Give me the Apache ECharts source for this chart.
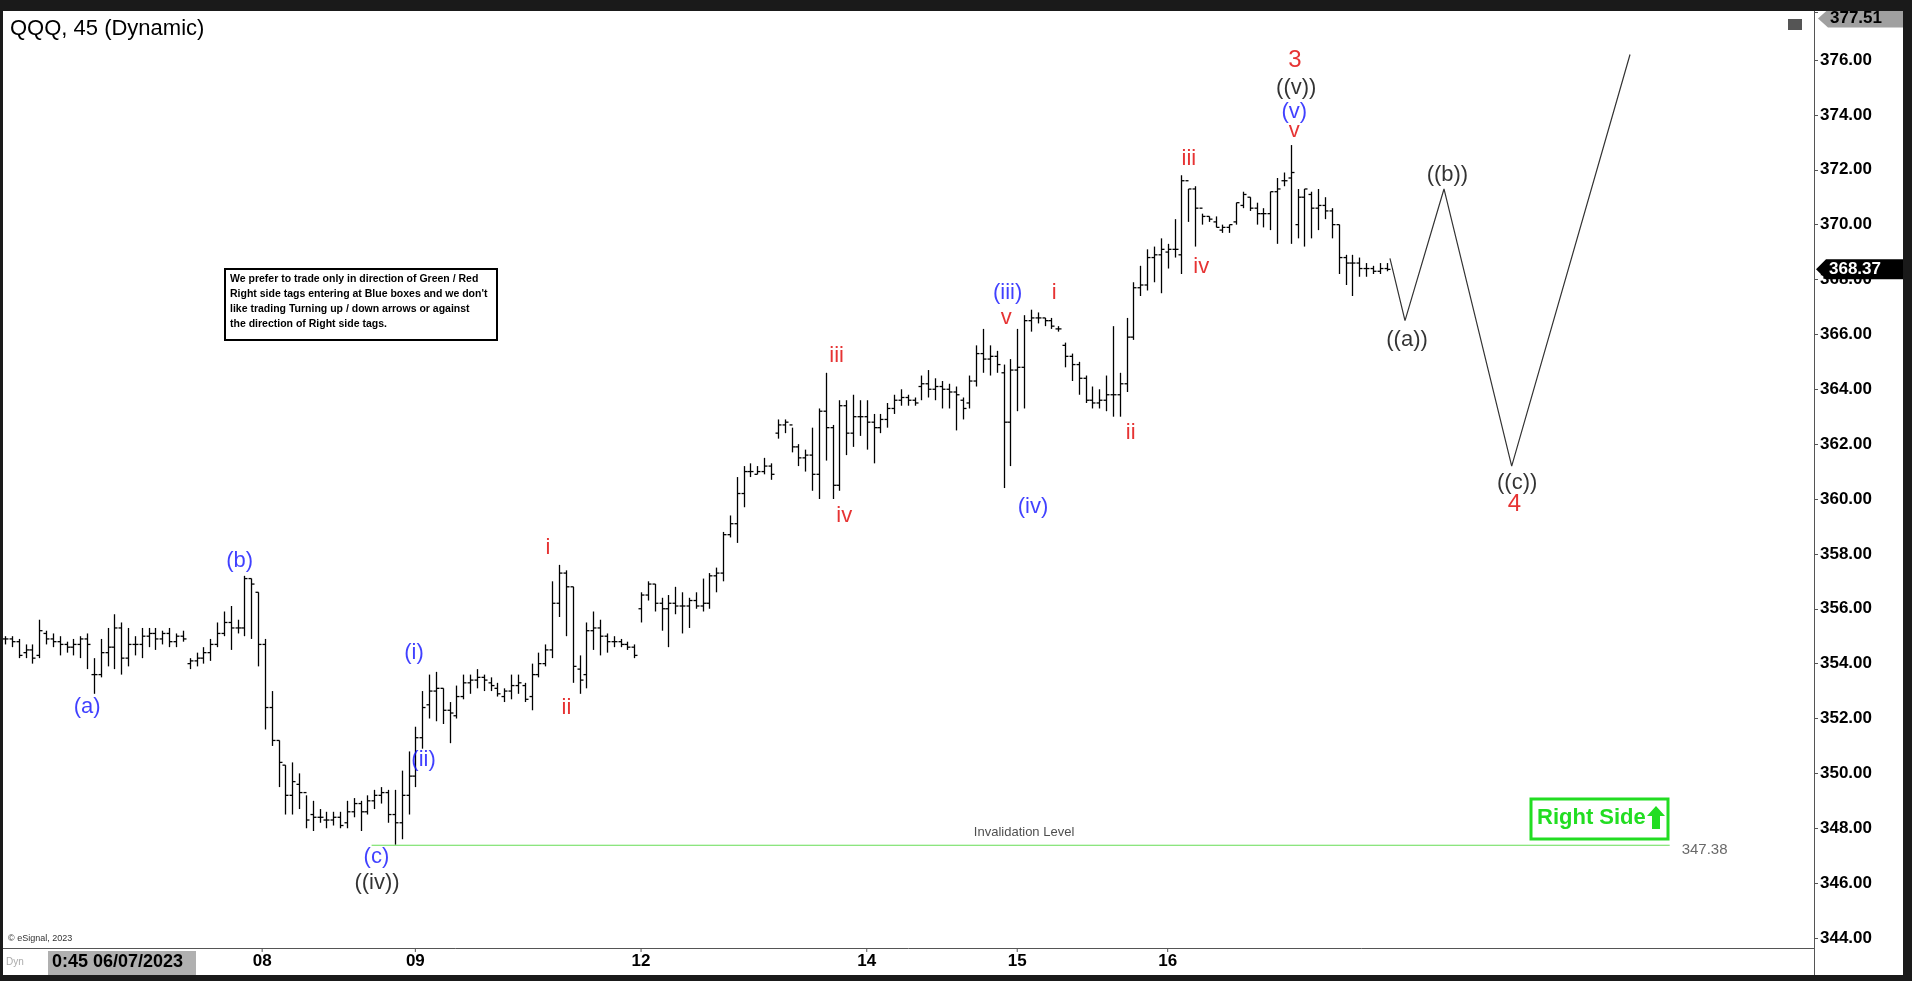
<!DOCTYPE html>
<html><head><meta charset="utf-8">
<script src="https://cdn.jsdelivr.net/npm/echarts@6/dist/echarts.min.js"></script>
<style>html,body{margin:0;padding:0;background:#fff}#c{width:1912px;height:981px}</style>
</head><body><div id="c"></div>
<script>
// OHLC bars: [open, close, low, high]
const bars = [
[354.9,354.9,354.7,355.0],[354.9,354.8,354.6,355.0],[354.8,354.3,354.2,354.9],[354.4,354.5,354.2,354.7],
[354.5,354.2,354.0,354.7],[354.3,355.2,354.2,355.6],[355.1,354.9,354.7,355.2],[354.9,354.8,354.6,355.1],
[354.8,354.7,354.3,355.0],[354.7,354.6,354.4,354.8],[354.6,354.7,354.3,354.9],[354.7,354.9,354.2,355.0],
[354.9,354.7,353.8,355.1],[353.6,353.6,352.9,354.2],[353.6,354.4,353.5,354.9],[354.4,354.6,353.9,355.3],
[354.6,355.3,353.8,355.8],[355.3,354.2,353.6,355.5],[354.2,354.7,353.9,355.3],[354.7,354.7,354.3,355.0],
[354.7,355.0,354.2,355.3],[355.0,355.1,354.6,355.3],[355.1,354.9,354.5,355.3],[354.9,355.1,354.7,355.2],
[355.1,354.8,354.6,355.3],[354.8,355.0,354.6,355.1],[355.0,354.9,354.8,355.2],
[354.0,354.1,353.8,354.2],[354.1,354.2,353.9,354.4],[354.2,354.4,354.0,354.6],[354.4,354.7,354.1,354.9],
[354.7,355.1,354.6,355.5],[355.1,355.5,355.0,355.9],[355.5,355.3,354.5,356.1],[355.3,355.3,355.1,355.6],
[355.3,357.1,355.0,357.2],[357.1,356.9,354.9,357.1],[356.6,354.7,353.9,356.6],[354.7,352.4,351.6,354.9],
[352.4,351.2,351.0,353.0],[351.2,350.4,349.5,351.2],[350.3,349.2,348.5,350.3],[349.2,349.7,348.5,350.4],
[349.6,349.3,348.7,350.0],[349.3,348.3,348.0,349.2],[348.5,348.4,347.9,349.0],[348.4,348.4,348.2,348.7],
[348.3,348.3,348.0,348.6],[348.3,348.4,348.1,348.6],[348.4,348.1,348.0,348.6],[348.2,348.6,348.0,349.0],
[348.6,348.9,348.4,349.1],[348.9,348.6,347.9,349.0],[348.6,349.0,348.5,349.2],[349.0,349.2,348.7,349.4],
[349.2,349.3,348.9,349.5],[349.3,348.5,348.2,349.4],[348.5,348.2,347.4,349.4],[348.2,349.2,347.6,350.1],
[349.2,349.9,348.5,350.8],[349.9,351.3,349.5,351.7],[351.3,352.4,350.9,353.0],[352.5,353.0,352.0,353.6],
[353.0,353.1,351.9,353.7],[353.1,352.3,351.8,353.1],[352.3,352.2,351.1,352.6],[352.1,352.8,352.0,353.2],
[352.8,353.3,352.7,353.6],[353.3,353.4,352.9,353.6],[353.4,353.5,353.1,353.8],[353.5,353.4,353.0,353.6],
[353.3,353.2,353.0,353.5],[353.1,352.9,352.8,353.3],[352.8,353.0,352.6,353.1],[353.0,353.2,352.7,353.6],
[353.2,353.3,352.9,353.6],[353.2,352.7,352.6,353.3],[352.8,353.6,352.3,354.0],[353.6,354.0,353.5,354.4],
[354.0,354.5,353.9,354.7],[354.5,356.2,354.2,357.0],[356.2,357.3,355.7,357.6],[357.3,356.8,355.0,357.4],
[356.8,353.9,353.3,356.8],[353.8,353.4,352.9,354.3],[353.6,355.2,353.1,355.5],[355.2,355.3,354.5,355.9],
[355.3,355.0,354.3,355.6],[355.0,354.8,354.4,355.1],[354.8,354.8,354.6,355.0],[354.8,354.7,354.6,354.9],
[354.7,354.6,354.5,354.8],[354.6,354.3,354.2,354.7],
[356.0,356.5,355.5,356.6],[356.5,356.9,356.3,357.0],[356.9,356.2,355.9,356.9],[356.2,356.0,355.2,356.4],
[356.0,356.2,354.6,356.5],[356.2,356.1,355.8,356.8],[356.1,356.1,355.1,356.6],[356.1,356.3,355.3,356.4],
[356.3,356.1,356.0,356.6],[356.1,356.2,355.9,357.1],[356.2,357.2,356.0,357.3],[357.2,357.3,356.6,357.5],
[357.3,358.7,357.0,358.8],[358.7,359.1,358.6,359.4],[359.1,360.2,358.4,360.8],[360.2,361.0,359.7,361.2],
[361.0,361.0,360.8,361.3],[360.9,361.0,360.9,361.2],[361.0,361.2,360.9,361.5],[361.2,360.9,360.7,361.3],
[362.4,362.7,362.2,362.9],[362.7,362.8,362.4,362.9],[362.7,361.9,361.7,362.6],[361.9,361.5,361.2,362.0],
[361.5,361.6,361.0,361.8],[361.6,360.9,360.3,362.6],[360.9,363.2,360.0,363.3],[363.2,362.6,361.4,364.6],
[362.6,360.5,360.0,362.7],[360.5,363.4,360.3,363.6],[363.4,362.4,361.6,363.6],[362.4,363.0,361.9,363.8],
[363.0,363.0,362.3,363.6],[363.0,362.8,361.8,363.6],[362.8,362.6,361.3,363.1],[362.6,362.9,362.4,363.1],
[362.9,363.3,362.6,363.5],[363.3,363.6,363.1,363.8],[363.6,363.7,363.4,364.0],[363.7,363.6,363.4,363.8],
[363.6,363.5,363.4,363.7],[364.1,364.2,363.6,364.5],[364.2,364.0,363.7,364.7],[364.0,364.1,363.6,364.4],
[364.1,364.0,363.3,364.3],[364.0,363.9,363.3,364.2],[363.9,363.8,362.5,364.1],[363.6,363.3,362.9,363.7],
[363.5,364.3,363.3,364.5],[364.3,365.3,364.1,365.6],[365.3,365.1,364.6,366.2],[365.1,365.2,364.5,365.6],
[365.2,364.9,364.6,365.4],[364.6,362.8,360.4,364.9],[362.8,364.7,361.2,365.1],[364.7,364.8,363.2,366.2],
[364.8,366.5,363.3,366.7],[366.5,366.6,366.1,366.9],[366.6,366.6,366.4,366.8],[366.6,366.5,366.3,366.6],
[366.5,366.3,366.2,366.6],[366.2,366.2,366.1,366.3],
[365.6,365.2,364.8,365.7],[365.2,364.9,364.3,365.3],[364.9,364.4,363.8,365.0],[364.4,363.6,363.5,364.5],
[363.6,363.5,363.3,364.1],[363.5,363.6,363.3,364.0],[363.6,363.8,363.2,364.5],[363.8,363.8,363.0,366.3],
[363.8,364.2,363.0,364.6],[364.2,365.9,363.9,366.6],[365.9,367.7,365.8,367.9],[367.7,367.8,367.4,368.5],
[367.8,368.8,367.6,369.1],[368.8,368.9,367.9,369.2],[368.9,369.1,367.5,369.5],[369.0,369.1,368.4,369.3],
[369.1,369.1,368.8,370.2],[368.9,371.6,368.2,371.8],[371.6,371.3,370.1,371.3],[371.3,370.6,369.2,371.4],
[370.6,370.3,370.0,370.4],[370.3,370.2,370.1,370.3],[370.1,369.9,369.9,370.3],[369.8,369.9,369.7,370.0],
[369.9,370.0,369.7,370.0],[370.1,370.8,370.0,370.8],[370.7,371.1,370.6,371.2],[371.0,370.6,370.5,371.0],
[370.6,370.4,370.0,370.8],[370.4,370.4,369.9,370.6],[370.4,371.2,369.8,371.2],[371.2,371.3,369.3,371.7],
[371.6,371.6,371.4,371.9],[371.7,371.9,369.3,372.9],[370.0,371.0,369.5,371.3],[371.0,371.3,369.2,371.3],
[371.1,370.6,369.5,371.2],[370.6,370.7,369.8,371.3],[370.7,370.5,370.2,371.0],[370.5,370.0,369.5,370.6],
[370.0,368.8,368.2,370.0],[368.8,368.6,367.8,368.9],[368.6,368.6,367.4,368.9],[368.6,368.4,368.1,368.8],
[368.4,368.4,368.1,368.6],[368.4,368.3,368.2,368.5],[368.3,368.4,368.2,368.6],[368.4,368.37,368.3,368.6]
];
const projection = [[202.5,368.77],[204.7,366.5],[210.4,371.3],[220.3,361.2],[237.6,376.2]];
const dayLabels = ['08','09','12','14','15','16'];
const dayIdx = [37.6,60,93,126,148,170];
const yTicks = [344,346,348,350,352,354,356,358,360,362,364,366,368,370,372,374,376];
const lastPrice = 368.37, topPrice = 377.51, invalidation = 347.38;
// annotations: [text, idx, price, color, fontSize]
const notes = [
['(a)',12.0,352.43,'#1010ff',22],['(b)',34.3,357.76,'#1010ff',22],['(c)',54.3,346.97,'#1010ff',22],
['((iv))',54.4,346.0,'#000',22],['(i)',59.8,354.4,'#1010ff',22],['(ii)',61.2,350.5,'#1010ff',22],
['i',79.4,358.2,'#e00000',22],['ii',82.1,352.4,'#e00000',22],['iii',121.6,365.2,'#e00000',22],
['iv',122.7,359.4,'#e00000',22],['(iii)',146.6,367.5,'#1010ff',22],['v',146.4,366.6,'#e00000',22],
['i',153.4,367.5,'#e00000',22],['(iv)',150.3,359.7,'#1010ff',22],['ii',164.6,362.4,'#e00000',22],
['iii',173.1,372.4,'#e00000',22],['iv',174.9,368.45,'#e00000',22],['3',188.6,376.0,'#e00000',24],
['((v))',188.8,375.0,'#000',22],['(v)',188.5,374.1,'#1010ff',22],['v',188.5,373.4,'#e00000',22],
['((a))',205.0,365.8,'#000',22],['((b))',210.9,371.8,'#000',22],['((c))',221.1,360.6,'#000',22],
['4',220.7,359.8,'#e00000',24]
];
const FF = 'Arial, "Liberation Sans", sans-serif';
const chart = echarts.init(document.getElementById('c'));
chart.setOption({
  animation:false,
  backgroundColor:'#fff',
  grid:{left:5,right:98,top:12,bottom:43},
  xAxis:{type:'value',min:0,max:264.5,show:false},
  yAxis:{type:'value',position:'right',min:344,max:377.75,interval:2,
    axisLine:{show:true,onZero:false,lineStyle:{color:'#555'}},axisTick:{show:true,length:4,lineStyle:{color:'#555'}},
    splitLine:{show:false},
    axisLabel:{color:'#000',fontSize:17,fontWeight:'bold',fontFamily:FF,margin:6,
      formatter:v=>yTicks.includes(v)?v.toFixed(2):''}},
  series:[
    {type:'custom',data:bars.map((b,i)=>[i,b[0],b[1],b[2],b[3]]),
     renderItem:function(params,api){
       const x=api.value(0);
       const o=api.coord([x,api.value(1)]),c=api.coord([x,api.value(2)]);
       const l=api.coord([x,api.value(3)]),h=api.coord([x,api.value(4)]);
       const px=Math.round(o[0])+0.5;
       const st={stroke:'#000',lineWidth:1.3};
       return {type:'group',children:[
         {type:'line',shape:{x1:px,y1:h[1],x2:px,y2:l[1]},style:st},
         {type:'line',shape:{x1:px-3,y1:o[1],x2:px,y2:o[1]},style:st},
         {type:'line',shape:{x1:px,y1:c[1],x2:px+3,y2:c[1]},style:st}
       ]};
     }},
    {type:'line',data:projection,symbol:'none',lineStyle:{color:'#333',width:1.2},z:3},
    {type:'line',data:[[53.6,invalidation],[243.4,invalidation]],symbol:'none',lineStyle:{color:'#66dd55',width:1.2}},
    {type:'scatter',symbolSize:0,data:notes.map(n=>({value:[n[1],n[2]],
      label:{show:true,position:'inside',formatter:n[0],color:n[3],fontSize:n[4],fontFamily:FF}}))},
    {type:'scatter',symbolSize:0,data:[
      {value:[149,347.86],label:{show:true,position:'inside',formatter:'Invalidation Level',color:'#222',fontSize:13,fontFamily:FF}},
      {value:[248.5,347.22],label:{show:true,position:'inside',formatter:'347.38',color:'#444',fontSize:15,fontFamily:FF}}
    ]}
  ]
});
const yLast = chart.convertToPixel({yAxisIndex:0},lastPrice);
const yTop = chart.convertToPixel({yAxisIndex:0},topPrice);
const g = [];
g.push({type:'rect',shape:{x:0,y:0,width:1912,height:11},style:{fill:'#1a1a1a'},z:50});
g.push({type:'rect',shape:{x:1903,y:0,width:9,height:981},style:{fill:'#1a1a1a'},z:50});
g.push({type:'rect',shape:{x:0,y:975,width:1912,height:6},style:{fill:'#1a1a1a'},z:50});
g.push({type:'rect',shape:{x:0,y:0,width:3,height:981},style:{fill:'#1a1a1a'},z:50});
g.push({type:'line',shape:{x1:3,y1:948.5,x2:1814,y2:948.5},style:{stroke:'#555',lineWidth:1},z:40});
g.push({type:'line',shape:{x1:1814.5,y1:11,x2:1814.5,y2:975},style:{stroke:'#555',lineWidth:1},z:40});
dayLabels.forEach((d,i)=>{
  const x = chart.convertToPixel({xAxisIndex:0},dayIdx[i]);
  g.push({type:'line',shape:{x1:x,y1:948,x2:x,y2:952},style:{stroke:'#555'}});
  g.push({type:'text',x:x,y:953,style:{text:d,fill:'#000',font:'bold 17px '+FF,textAlign:'center'}});
});
g.push({type:'rect',shape:{x:48,y:951,width:148,height:24},style:{fill:'#b0b0b0'},z:45});
g.push({type:'text',x:52,y:953,style:{text:'0:45 06/07/2023',fill:'#000',font:'bold 18px '+FF},z:46});
g.push({type:'text',x:6,y:957,style:{text:'Dyn',fill:'#aaa',font:'10px '+FF}});
g.push({type:'text',x:8,y:934,style:{text:'© eSignal, 2023',fill:'#333',font:'9px '+FF}});
g.push({type:'text',x:10,y:18,style:{text:'QQQ, 45 (Dynamic)',fill:'#000',font:'22px '+FF}});
g.push({type:'polygon',shape:{points:[[1818,yTop],[1828,yTop-9],[1903,yTop-9],[1903,yTop+9],[1828,yTop+9]]},style:{fill:'#a0a0a0'},z:48});
g.push({type:'text',x:1830,y:yTop-9,style:{text:topPrice.toFixed(2),fill:'#000',font:'bold 17px '+FF},z:49});
g.push({type:'polygon',shape:{points:[[1816,yLast],[1826,yLast-10],[1903,yLast-10],[1903,yLast+10],[1826,yLast+10]]},style:{fill:'#000'},z:48});
g.push({type:'text',x:1829,y:yLast-9,style:{text:lastPrice.toFixed(2),fill:'#fff',font:'bold 17px '+FF},z:49});
g.push({type:'rect',shape:{x:1788,y:19,width:14,height:11},style:{fill:'#555'}});
g.push({type:'rect',shape:{x:225,y:269,width:272,height:71},style:{fill:'#fff',stroke:'#000',lineWidth:2}});
['We prefer to trade only in direction of Green / Red','Right side tags entering at Blue boxes and we don\'t',
 'like trading Turning up / down arrows or against','the direction of Right side tags.'].forEach((t,i)=>{
  g.push({type:'text',x:230,y:274+i*15,style:{text:t,fill:'#000',font:'bold 10.5px '+FF}});
});
g.push({type:'rect',shape:{x:1531,y:799,width:137,height:40},style:{fill:'#fff',stroke:'#22dd22',lineWidth:3}});
g.push({type:'text',x:1537,y:807,style:{text:'Right Side',fill:'#22dd22',font:'bold 22px '+FF}});
g.push({type:'polygon',shape:{points:[[1656,806],[1665,816],[1660,816],[1660,829],[1652,829],[1652,816],[1647,816]]},style:{fill:'#22dd22'}});
chart.setOption({graphic:g});
</script></body></html>
